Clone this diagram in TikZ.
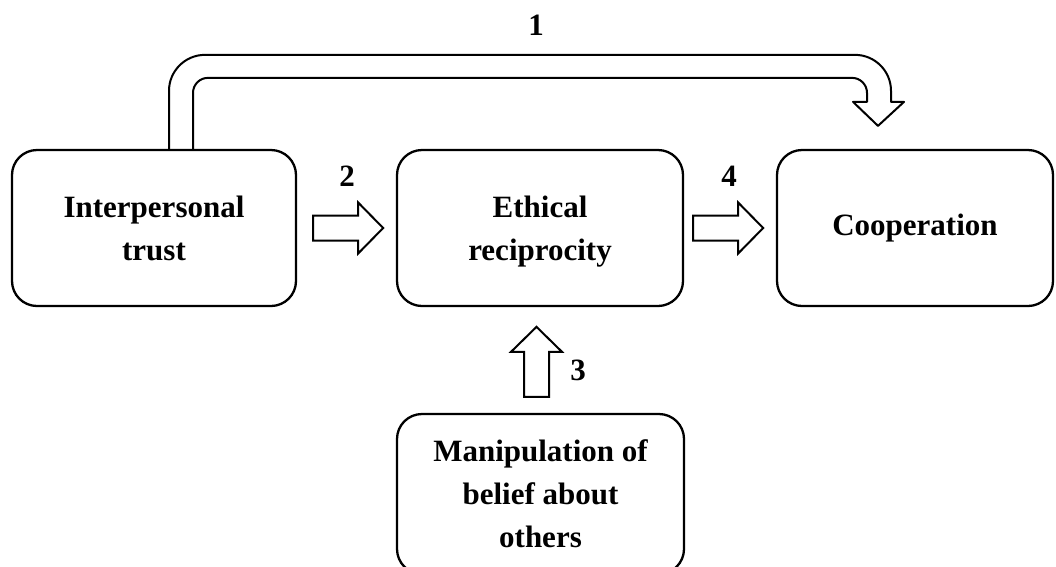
\documentclass[tikz,border=0pt]{standalone}
\usepackage{fontspec}
\setmainfont{Liberation Serif}
\usetikzlibrary{calc}

\tikzset{
  box/.style={draw,line width=2.3pt,rounded corners=25pt,align=center,
    font=\bfseries\fontsize{31}{43}\selectfont},
  num/.style={font=\bfseries\fontsize{31}{36}\selectfont},
  pics/fatarrow/.style={code={
    \draw[line width=2pt,fill=white] (0,-12.5) -- (45,-12.5) -- (45,-25.5) -- (70,0)
      -- (45,25.5) -- (45,12.5) -- (0,12.5) -- cycle;}}
}

\begin{document}
\begin{tikzpicture}[x=1pt,y=-1pt]
	\useasboundingbox (0,0) rectangle (1056,566);
	\node[box,minimum width=284pt,minimum height=156pt] (trust)at(154,228) {Interpersonal\\trust};
	\node[box,minimum width=286pt,minimum height=156pt,text depth=0pt] (ethic)at(540,228) {Ethical\\reciprocity};
	\node[box,minimum width=276pt,minimum height=156pt] (coop)at(915,228) {Cooperation};
	\node[box,minimum width=287pt,minimum height=160pt] (manip)at(540.5,494) {Manipulation of\\belief about\\others};
	\node[num] (n1)at(536,25) {1};
	\node[num] (n2)at(347,176) {2};
	\node[num] (n3)at(578,370) {3};
	\node[num] (n4)at(729,176) {4};
	% bent arrow 1
	\draw[line width=2pt,line join=round] ($(trust.north)+(15,0)$) [rounded corners=36pt] -- ++(0,-94) -- ++(722,0)
		[sharp corners] -- ++(0,47) -- ++(13,0) -- ++(-26,24) -- ++(-25,-24) -- ++(14,0)
		[rounded corners=15pt] -- ++(0,-24) -- ++(-674,0) [sharp corners] -- ++(0,71);
	\pic at ($(trust.east)+(16,0)$) {fatarrow};
	\pic at ($(ethic.east)+(9,0)$) {fatarrow};
	\pic[rotate=90] at ($(manip.north)+(-4,-16)$) {fatarrow};
\end{tikzpicture}
\end{document}
